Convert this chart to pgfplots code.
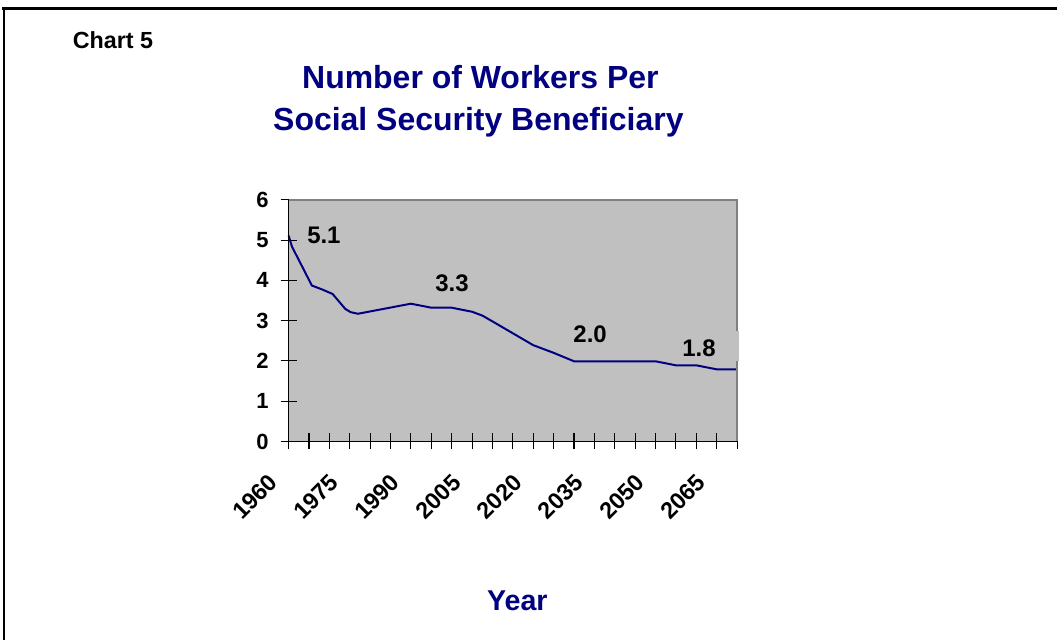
\documentclass[border=0pt]{standalone}
\usepackage{pgfplots}
\pgfplotsset{compat=1.18}
\usepackage{fontspec}
\setmainfont{Liberation Sans}
\definecolor{navy}{RGB}{0,0,128}
\definecolor{plotgray}{RGB}{192,192,192}
\definecolor{bordergray}{RGB}{128,128,128}
\newcommand{\tickfont}{\fontsize{16.5}{18}\selectfont\bfseries}
\newcommand{\xtickfont}{\fontsize{17.5}{19}\selectfont\bfseries}
\newcommand{\lblfont}{\fontsize{18}{20}\selectfont\bfseries}
\begin{document}
\begin{tikzpicture}
\begin{scope}[x=0.75pt,y=-0.75pt]
\path[use as bounding box] (0,0) rectangle (1058,641);
\end{scope}
\begin{axis}[
  name=ax,
  at={(216.75pt,-331.5pt)}, anchor=south west,
  scale only axis, width=336.75pt, height=181.5pt,
  xmin=1960, xmax=2070, ymin=0, ymax=6,
  axis background/.style={fill=plotgray},
  axis line style={draw=none},
  xtick={1960,1975,1990,2005,2020,2035,2050,2065},
  xticklabels={1960,1975,1990,2005,2020,2035,2050,2065},
  minor xtick={1965,1970,1980,1985,1995,2000,2010,2015,2025,2030,2040,2045,2055,2060,2070},
  ytick={0,1,2,3,4,5,6},
  tick pos=left,
  tick align=center,
  major tick length=12pt,
  minor tick length=12pt,
  every tick/.style={black, line width=0.8pt},
  every minor tick/.style={black, line width=0.8pt},
  yticklabel style={font=\tickfont},
  /pgf/number format/assume math mode=true,
  yticklabel style={xshift=-5.5pt},
  xticklabel style={font=\xtickfont, xshift=-16pt, yshift=-17pt, rotate=45, anchor=north east, inner sep=0pt},
  clip=false,
]
\addplot[navy, line width=1.5pt] coordinates {
(1960,5.11)(1960.8,4.84)(1965.7,3.87)(1968.3,3.77)(1970.8,3.66)(1971.8,3.54)
(1973.9,3.29)(1975.2,3.21)(1977,3.17)(1990,3.42)(1995,3.32)(2000,3.32)
(2005,3.22)(2007.6,3.12)(2010,2.98)(2020,2.39)(2025,2.2)(2030,1.99)
(2050,1.99)(2055,1.89)(2060,1.89)(2065,1.79)(2070,1.79)};
\node[anchor=base west, inner sep=0, font=\lblfont] at (axis cs:1964.5,4.91) {5.1};
\node[anchor=base west, inner sep=0, font=\lblfont] at (axis cs:1995.9,3.73) {3.3};
\node[anchor=base west, inner sep=0, font=\lblfont] at (axis cs:2029.8,2.455) {2.0};
\coordinate (l18) at (axis cs:2056.5,2.11);
\coordinate (c1) at (axis cs:2064,1.99);
\coordinate (c2) at (axis cs:2070.5,2.73);
\end{axis}
\draw[bordergray, line width=1.5pt] (ax.north west) -- (ax.north east) -- (ax.south east);
\draw[black, line width=1.1pt] (ax.north west) -- (ax.south west) -- (ax.south east);
\fill[plotgray] (c1) rectangle (c2);
\node[anchor=base west, inner sep=0, font=\lblfont] at (l18) {1.8};
\begin{scope}[x=0.75pt,y=-0.75pt]
\draw[black, line width=2pt] (2.5,8.3) -- (1058,8.3);
\draw[black, line width=2pt] (4,7.3) -- (4,641);
\node[anchor=base west, inner sep=0, font=\fontsize{17.5}{19}\selectfont\bfseries] at (72.7,48.3) {Chart 5};
\node[anchor=base, inner sep=0, text=navy, font=\fontsize{24}{26}\selectfont\bfseries] at (481,88.3) {Number of Workers Per};
\node[anchor=base, inner sep=0, text=navy, font=\fontsize{24}{26}\selectfont\bfseries] at (479,131) {Social Security Beneficiary};
\node[anchor=base, inner sep=0, text=navy, font=\fontsize{21.5}{23}\selectfont\bfseries] at (518,611.7) {Year};
\end{scope}
\end{tikzpicture}
\end{document}
